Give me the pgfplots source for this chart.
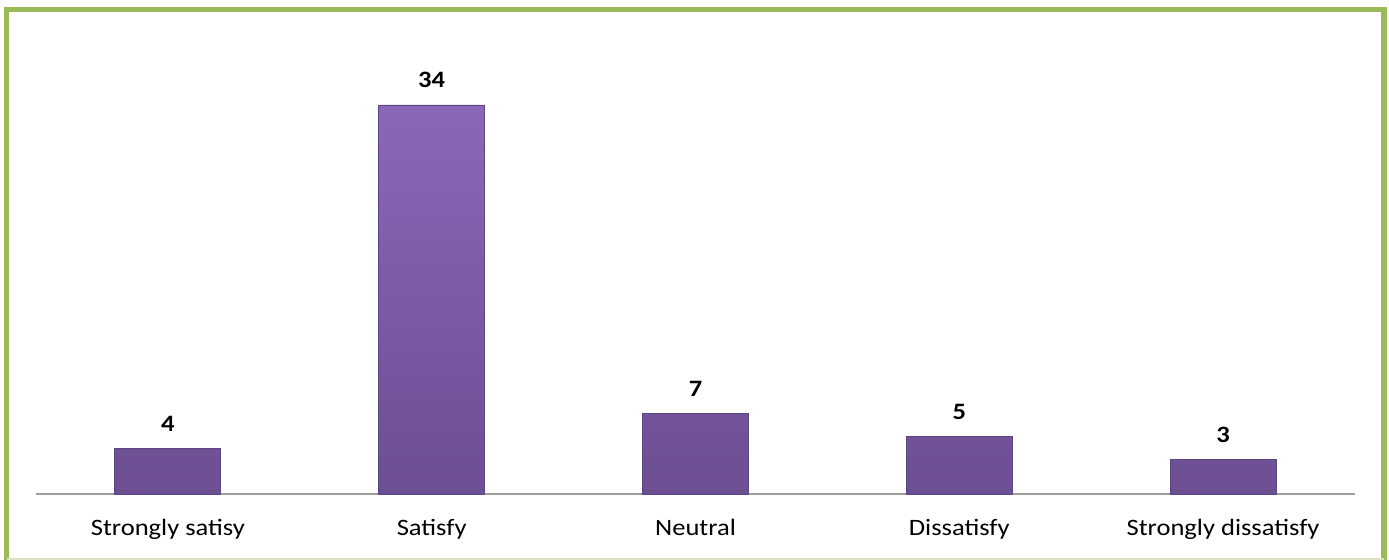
\documentclass[border=0pt]{standalone}
\usepackage{pgfplots}
\pgfplotsset{compat=1.18}
\usepackage{fontspec}
\setmainfont{Carlito}[FakeStretch=1.13]
\definecolor{frameg}{HTML}{9BBB59}
\definecolor{barA}{HTML}{8A68B8}
\definecolor{barB}{HTML}{6C4E92}
\definecolor{barE}{HTML}{5E4680}
\begin{document}
\begin{tikzpicture}
\path[use as bounding box] (0,0) rectangle (694.5pt,280pt);
\draw[frameg, line width=2.8pt] (3.25pt,0pt) -- (3.25pt,275.25pt) -- (692pt,275.25pt) -- (692pt,0pt);
\draw[frameg!40, line width=1pt] (3.25pt,0.5pt) -- (692pt,0.5pt);
\begin{axis}[
  at={(18pt,33pt)}, anchor=south west,
  scale only axis, width=659.5pt, height=217.4pt,
  xmin=-0.5, xmax=4.5, ymin=0, ymax=38,
  axis y line=none, axis x line=bottom,
  x axis line style={-, color=black!38, line width=0.75pt},
  xtick={0,1,2,3,4},
  xticklabels={Strongly satisy, Satisfy, Neutral, Dissatisfy, Strongly dissatisfy},
  major tick length=0pt,
  xticklabel style={font=\fontsize{11.75}{14}\selectfont, yshift=-9pt},
  ybar, bar width=53pt,
  /pgf/number format/assume math mode=true,
  nodes near coords,
  nodes near coords style={font=\bfseries\fontsize{11.75}{14}\selectfont, yshift=5pt},
  clip=false,
]
\addplot[ybar, draw=barE, line width=0.4pt, top color=barA, bottom color=barB]
  coordinates {(0,4) (1,34) (2,7) (3,5) (4,3)};
\end{axis}
\end{tikzpicture}
\end{document}
